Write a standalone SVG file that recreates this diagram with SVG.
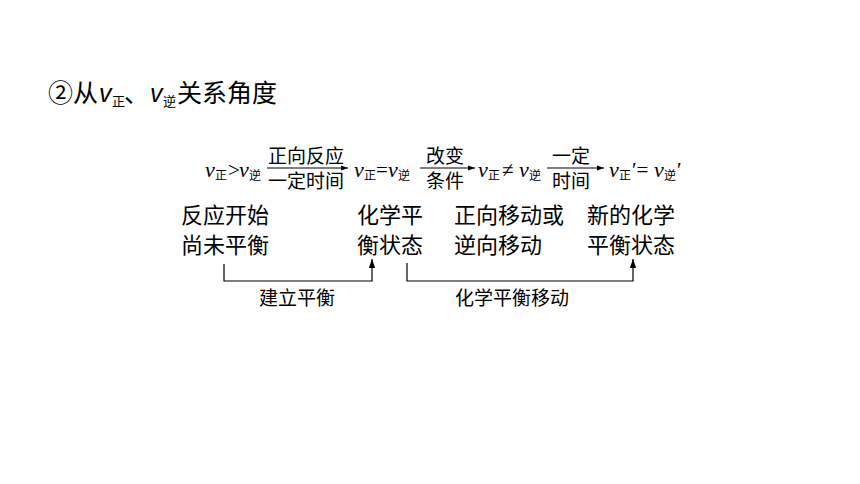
<svg xmlns="http://www.w3.org/2000/svg" width="860" height="484" viewBox="0 0 860 484">
<style>
.cjk{font-family:"Noto Sans CJK SC","Noto Sans",sans-serif;fill:#000}
.v{font-family:"Liberation Serif",serif;font-style:italic;fill:#000;font-size:22px}
.s{font-family:"Noto Sans CJK SC",sans-serif;font-size:12px;fill:#000}
.op{font-family:"Liberation Serif",serif;font-size:21px;fill:#000}
.lbl{font-size:19px}
.node{font-size:22px}
.ln{stroke:#000;stroke-width:1.2;fill:none}
</style>
<defs>
<marker id="ah" viewBox="0 0 10 10" refX="10" refY="5" markerWidth="7" markerHeight="7" markerUnits="userSpaceOnUse" orient="auto">
<path d="M0,1.5 L10,5 L0,8.5 Z" fill="#000"/>
</marker>
<marker id="ah2" viewBox="0 0 10 10" refX="10" refY="5" markerWidth="9" markerHeight="9" markerUnits="userSpaceOnUse" orient="auto">
<path d="M0,1.5 L10,5 L0,8.5 Z" fill="#000"/>
</marker>
</defs>
<rect width="860" height="484" fill="#fff"/>
<g id="title">
<text class="cjk" x="48" y="102" font-size="25">②从</text>
<text x="99" y="102" font-family="Liberation Sans,sans-serif" font-style="italic" font-size="25">v</text>
<text class="cjk" x="112" y="106" font-size="13">正</text>
<text class="cjk" x="124" y="102" font-size="25" textLength="22">、</text>
<text x="150" y="102" font-family="Liberation Sans,sans-serif" font-style="italic" font-size="25">v</text>
<text class="cjk" x="163" y="106" font-size="13">逆</text>
<text class="cjk" x="177" y="102" font-size="25">关系角度</text>
</g>
<g id="eq1">
<text class="v" x="205" y="177">v</text><text class="s" x="215" y="180">正</text>
<text class="op" x="228" y="177">&gt;</text>
<text class="v" x="239" y="177">v</text><text class="s" x="249" y="180">逆</text>
</g>
<g id="eq2">
<text class="v" x="354" y="177">v</text><text class="s" x="364" y="180">正</text>
<text class="op" x="376" y="177">=</text>
<text class="v" x="388" y="177">v</text><text class="s" x="398" y="180">逆</text>
</g>
<g id="eq3">
<text class="v" x="478" y="177">v</text><text class="s" x="488" y="180">正</text>
<text class="op" x="502" y="177">≠</text>
<text class="v" x="519" y="177">v</text><text class="s" x="529" y="180">逆</text>
</g>
<g id="eq4">
<text class="v" x="609" y="177">v</text><text class="s" x="619" y="180">正</text>
<text class="op" x="632" y="177">′=</text>
<text class="v" x="654" y="177">v</text><text class="s" x="664" y="180">逆</text>
<text class="op" x="677" y="177">′</text>
</g>
<g id="n1" class="cjk node"><text x="181" y="223">反应开始</text><text x="181" y="253">尚未平衡</text></g>
<g id="n2" class="cjk node"><text x="357" y="223">化学平</text><text x="357" y="253">衡状态</text></g>
<g id="n3" class="cjk node"><text x="454" y="223">正向移动或</text><text x="454" y="253">逆向移动</text></g>
<g id="n4" class="cjk node"><text x="587" y="223">新的化学</text><text x="587" y="253">平衡状态</text></g>
<g id="connectors">
<line class="ln" x1="267" y1="168" x2="348" y2="168" marker-end="url(#ah)"/>
<line class="ln" x1="420" y1="168" x2="475" y2="168" marker-end="url(#ah)"/>
<line class="ln" x1="547" y1="168" x2="604" y2="168" marker-end="url(#ah)"/>
<path class="ln" d="M224,264 V281 H372 V259" marker-end="url(#ah2)"/>
<path class="ln" d="M407,263 V281 H633 V259" marker-end="url(#ah2)"/>
<text class="cjk lbl" x="268" y="163">正向反应</text>
<text class="cjk lbl" x="268" y="188">一定时间</text>
<text class="cjk lbl" x="426" y="163">改变</text>
<text class="cjk lbl" x="426" y="188">条件</text>
<text class="cjk lbl" x="552" y="163">一定</text>
<text class="cjk lbl" x="552" y="188">时间</text>
<text class="cjk lbl" x="259" y="305">建立平衡</text>
<text class="cjk lbl" x="455" y="305">化学平衡移动</text>
</g>
</svg>
